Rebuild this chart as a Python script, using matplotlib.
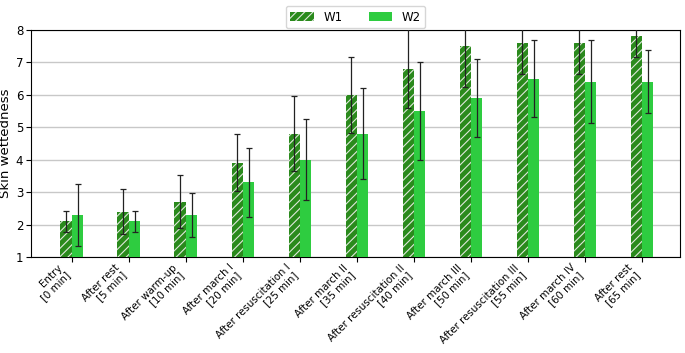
import numpy as np
import matplotlib
matplotlib.use('Agg')
import matplotlib.pyplot as plt

# 数据
labels = ['Entry\n[0 min]', 'After rest\n[5 min]', 'After warm-up\n[10 min]',
          'After march I\n[20 min]', 'After resuscitation I\n[25 min]',
          'After march II\n[35 min]', 'After resuscitation II\n[40 min]',
          'After march III\n[50 min]', 'After resuscitation III\n[55 min]',
          'After march IV\n[60 min]', 'After rest\n[65 min]']
w1 = [2.1, 2.4, 2.7, 3.9, 4.8, 6.0, 6.8, 7.5, 7.6, 7.6, 7.8]
w1_err = [0.32, 0.7, 0.82, 0.88, 1.15, 1.17, 1.22, 1.27, 0.96, 0.96, 0.62]
w2 = [2.3, 2.1, 2.3, 3.3, 4.0, 4.8, 5.5, 5.9, 6.5, 6.4, 6.4]
w2_err = [0.95, 0.32, 0.67, 1.06, 1.24, 1.41, 1.52, 1.2, 1.18, 1.28, 0.97]

x = np.arange(len(labels))
w = 0.2

plt.rcParams['hatch.linewidth'] = 0.8
fig = plt.figure(figsize=(6.85, 3.53), dpi=100)
ax = fig.add_axes([0.045, 0.272, 0.948, 0.643])

ax.bar(x - w/2, w1, w, color='#2a8a1c', edgecolor='#dfe9dc', linewidth=0, hatch='////',
       label='W1', zorder=3)
ax.errorbar(x - w/2, w1, yerr=w1_err, fmt='none', ecolor='#222222', elinewidth=0.9,
            capsize=2, capthick=0.9, zorder=4)
ax.bar(x + w/2, w2, w, color='#2ecc40', edgecolor='white', linewidth=0,
       label='W2', zorder=3)
ax.errorbar(x + w/2, w2, yerr=w2_err, fmt='none', ecolor='#222222', elinewidth=0.9,
            capsize=2, capthick=0.9, zorder=4)

ax.set_ylim(1, 8)
ax.set_xlim(-0.72, len(labels) - 0.33)
ax.set_ylabel('Skin wettedness', fontsize=9.5, labelpad=3)
ax.set_xticks(x)
ax.set_xticklabels(labels, rotation=45, ha='right', fontsize=7.4, linespacing=1.05)
ax.tick_params(axis='y', labelsize=8.5, pad=2)
ax.tick_params(axis='x', pad=0.5)
ax.yaxis.grid(True, color='#c8c8c8', linewidth=1, zorder=0)
ax.set_axisbelow(True)

ax.legend(loc='lower center', bbox_to_anchor=(0.5, 1.0), ncol=2, fontsize=8.5,
          frameon=True, handlelength=2.0, columnspacing=2.2, borderaxespad=0.15)

fig.savefig('out.png', dpi=100)
